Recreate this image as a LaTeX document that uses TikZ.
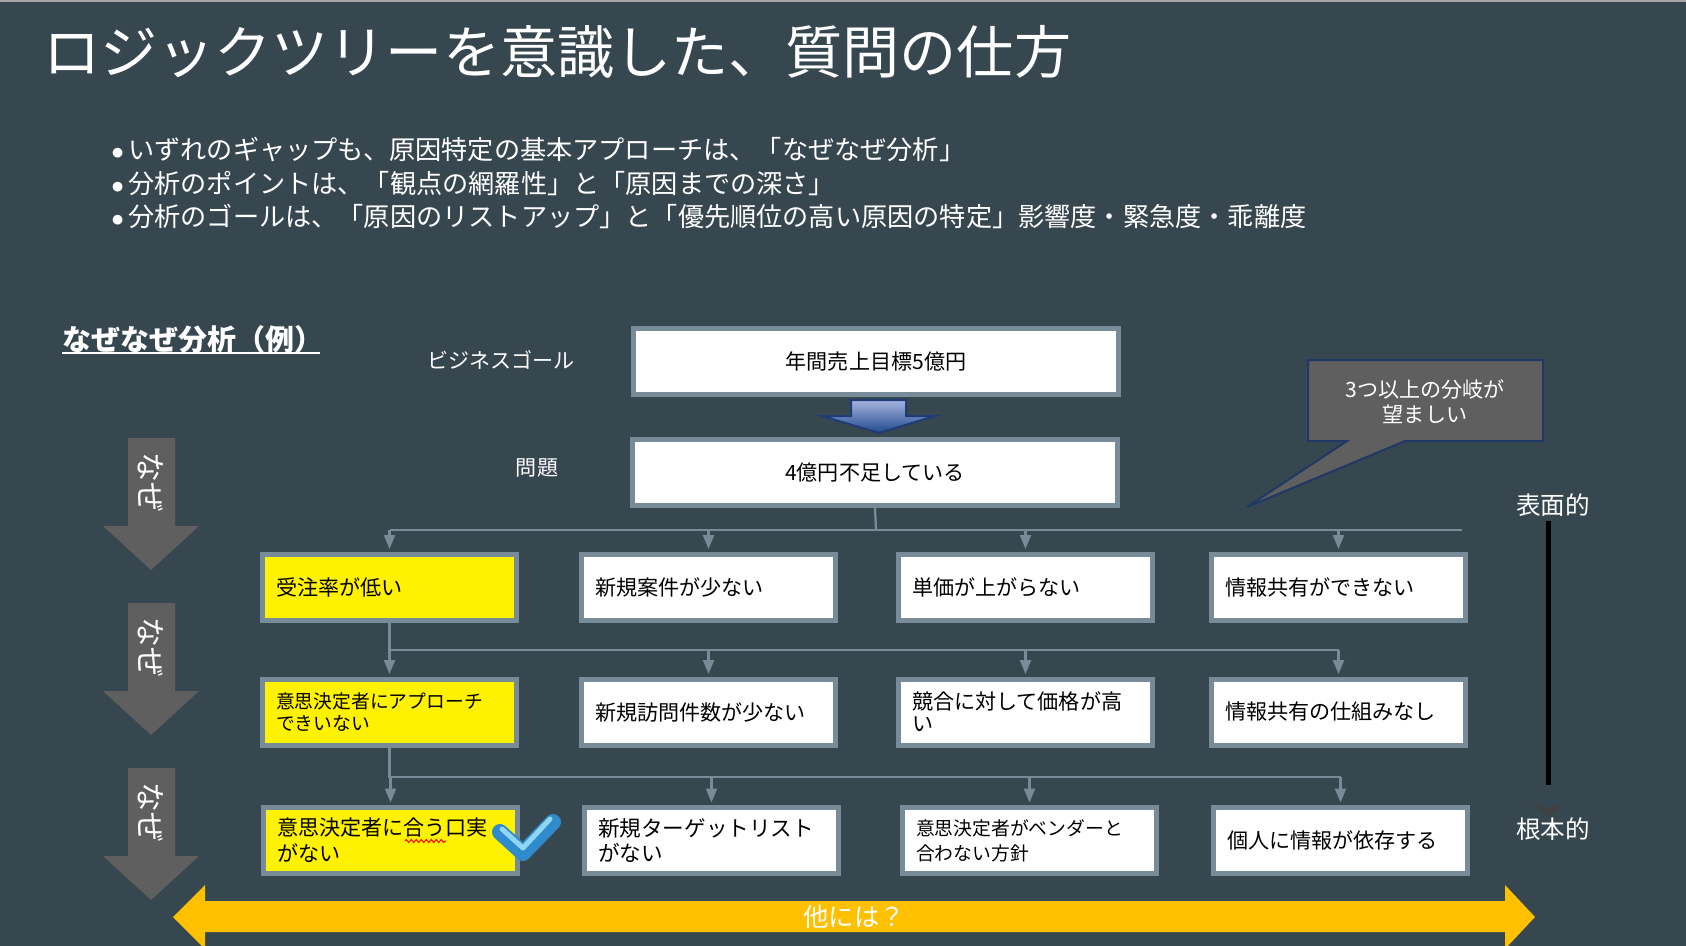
\documentclass[tikz,border=0pt]{standalone}
\usepackage{fontspec}
\setmainfont{Noto Sans CJK JP}
\usepackage{tikz}
\usetikzlibrary{arrows.meta, positioning, decorations.pathmorphing}

\definecolor{slate}{HTML}{37474F}
\definecolor{frame}{HTML}{778C98}
\definecolor{nazegray}{HTML}{5F5F5F}
\definecolor{calloutline}{HTML}{1F3864}
\definecolor{gold}{HTML}{FFC000}
\definecolor{bluetop}{HTML}{A7B4E0}
\definecolor{bluebot}{HTML}{1F4A8E}
\definecolor{blueline}{HTML}{1F3C78}
\definecolor{checkdark}{HTML}{2F8BCB}
\definecolor{checklight}{HTML}{8ED6F2}
\definecolor{chevron}{HTML}{404040}

\newcommand{\setfs}[2]{\fontsize{#1}{#2}\selectfont}
\newcommand{\bul}{\makebox[0.34cm][l]{$\bullet$}}

\begin{document}
\begin{tikzpicture}[x=0.02cm, y=-0.02cm,
    txt/.style={text=white, inner sep=0pt},
    cause/.style={draw=frame, line width=0.1cm, fill=white, minimum height=1.32cm,
      text width=4.54cm, inner xsep=0.27cm, inner ysep=0pt, align=left, font=\setfs{12}{13}},
    hot/.style={cause, fill=yellow},
    goalbox/.style={draw=frame, line width=0.1cm, fill=white, minimum width=9.7cm,
      minimum height=1.32cm, font=\setfs{12}{13}},
    link/.style={draw=frame, line width=0.045cm},
    drop/.style={link, -{Triangle[width=0.22cm,length=0.28cm]}, shorten >=0.05cm},
  ]
  % Slide background
  \useasboundingbox (0,0) rectangle (1686,946);
  \fill[slate] (0,0) rectangle (1686,946);
  \fill[gray!70] (0,0) rectangle (1686,2);

  % Title and bullet points
  \node[txt, anchor=west, font=\setfs{32.5}{36}] (title) at (43,52) {ロジックツリーを意識した、質問の仕方};
  \node[txt, anchor=west, align=left, font=\setfs{14.9}{18.8}] (points) at (111,183)
    {\bul いずれのギャップも、原因特定の基本アプローチは、「なぜなぜ分析」\\
     \bul 分析のポイントは、「観点の網羅性」と「原因までの深さ」\\
     \bul 分析のゴールは、「原因のリストアップ」と「優先順位の高い原因の特定」影響度・緊急度・乖離度};

  % Heading of the example
  \node[txt, anchor=west, font=\bfseries\setfs{16.5}{19}] (example) at (62,339) {なぜなぜ分析（例）};
  \coordinate (ulend) at (320,353);
  \draw[white, line width=0.04cm] (example.west |- ulend) -- (ulend);

  % Goal and problem
  \node[txt, font=\setfs{12}{14}] (goallabel) at (501,360) {ビジネスゴール};
  \node[txt, font=\setfs{12}{14}] (problabel) at (537,468) {問題};
  \node[goalbox] (goal) at (876,361.5) {年間売上目標5億円};
  \node[goalbox] (prob) at (875,472.5) {4億円不足している};

  % Blue block arrow between goal and problem
  \shade[top color=bluetop, bottom color=bluebot] (851,400) -- (906,400) -- (906,416) -- (935,416)
    -- (879,433) -- (822,416) -- (851,416) -- cycle;
  \draw[blueline, line width=0.04cm] (851,400) -- (906,400) -- (906,416) -- (935,416)
    -- (879,433) -- (822,416) -- (851,416) -- cycle;

  % Why arrows on the left
  \foreach \t [count=\i] in {438,603,768} {
    \fill[nazegray] (128,\t) -- (175,\t) -- (175,\t+88) -- (199,\t+88) -- (151,\t+132)
      -- (103,\t+88) -- (128,\t+88) -- cycle;
    \node[txt, rotate=-90, font=\setfs{17}{20}] (naze\i) at (151,\t+44) {なぜ};
  }

  % First level causes
  \node[hot]   (r1a) at (389.5,587) {受注率が低い};
  \node[cause] (r1b) at (708.5,587) {新規案件が少ない};
  \node[cause] (r1c) at (1025.5,587) {単価が上がらない};
  \node[cause] (r1d) at (1338.5,587) {情報共有ができない};

  % Second level causes
  \node[hot, font=\setfs{10.7}{12.5}] (r2a) at (389.5,712) {意思決定者にアプローチ\\できいない};
  \node[cause] (r2b) at (708.5,712) {新規訪問件数が少ない};
  \node[cause, font=\setfs{12}{12.5}] (r2c) at (1025.5,712) {競合に対して価格が高\\い};
  \node[cause] (r2d) at (1338.5,712) {情報共有の仕組みなし};

  % Third level causes
  \node[hot, font=\setfs{12}{14.8}] (r3a) at (390.5,840.5) {意思決定者に合う口実\\がない};
  \node[cause, font=\setfs{12.3}{14.2}] (r3b) at (711.5,840.5) {新規ターゲットリスト\\がない};
  \node[cause, font=\setfs{10.7}{14.2}] (r3c) at (1029.5,840.5) {意思決定者がベンダーと\\合わない方針};
  \node[cause] (r3d) at (1340.5,840.5) {個人に情報が依存する};

  % Tree connectors
  \coordinate (bus) at (876,530);
  \coordinate (busend) at (1462,530);
  \draw[link] (prob.south) -- (bus);
  \draw[link] (r1a.north |- bus) -- (busend);
  \foreach \n in {r1a,r1b,r1c,r1d}
    \draw[drop] (\n.north |- bus) -- (\n.north);

  \coordinate (bus2) at (389.5,650);
  \draw[link] (r1a.south) -- (bus2) -- (r2d.north |- bus2);
  \foreach \n in {r2a,r2b,r2c,r2d}
    \draw[drop] (\n.north |- bus2) -- (\n.north);

  \coordinate (bus3) at (389.5,777);
  \draw[link] (r2a.south) -- (bus3) -- (r3d.north |- bus3);
  \foreach \n in {r3a,r3b,r3c,r3d}
    \draw[drop] (\n.north |- bus3) -- (\n.north);

  % Spell check mark and tick on the chosen cause
  \draw[red, line width=0.02cm, decorate, decoration={zigzag, segment length=0.1cm, amplitude=0.03cm}]
    (405,841) -- (446,841);
  \draw[checkdark, line width=0.32cm, line cap=round, line join=round] (500,832) -- (523,853) -- (553,822);
  \draw[checklight, line width=0.1cm, line cap=round, line join=round] (502,829) -- (523,848) -- (550,819);

  % Callout
  \filldraw[fill=nazegray, draw=calloutline, line width=0.04cm] (1308,360) -- (1543,360) -- (1543,441)
    -- (1405,441) -- (1247,507) -- (1347,441) -- (1308,441) -- cycle;
  \node[txt, align=center, font=\setfs{12}{14.2}] (hint) at (1425,402) {3つ以上の分岐が\\望ましい};

  % Depth scale on the right
  \node[txt, font=\setfs{14}{16}] (surface) at (1553,505) {表面的};
  \node[txt, font=\setfs{14}{16}] (root) at (1553,829) {根本的};
  \coordinate (deeptop) at (1548,521);
  \coordinate (deepbot) at (1548,785);
  \draw[black, line width=0.1cm] (deeptop) -- (deepbot);
  \fill[chevron] (1533,802) -- (1548,809) -- (1563,802) -- (1548,817) -- cycle;

  % Breadth arrow at the bottom
  \fill[gold] (173,917) -- (205,885) -- (205,901) -- (1505,901) -- (1505,885) -- (1535,917)
    -- (1505,949) -- (1505,932) -- (205,932) -- (205,949) -- cycle;
  \node[txt, font=\setfs{14.5}{16}] (others) at (854,917) {他には？};
\end{tikzpicture}
\end{document}
